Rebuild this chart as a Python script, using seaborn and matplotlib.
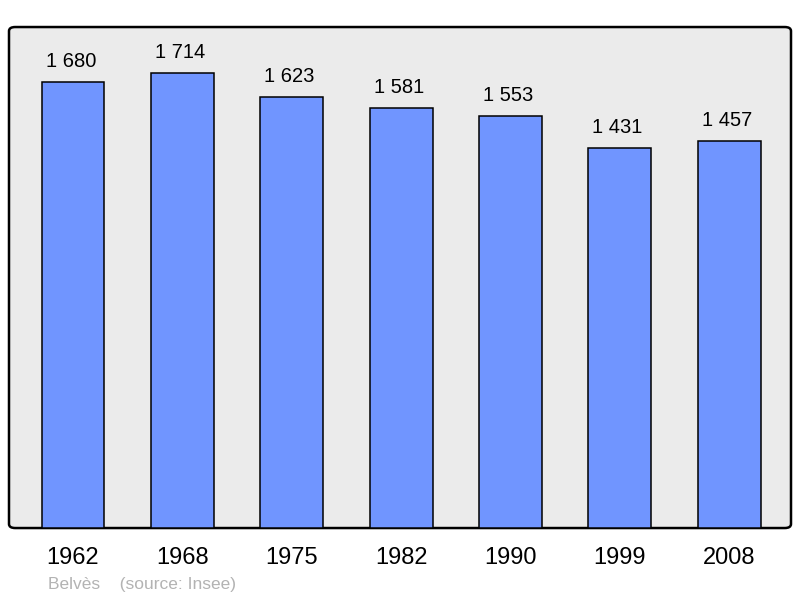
import seaborn as sns
import matplotlib.pyplot as plt
import pandas as pd
from matplotlib.patches import FancyBboxPatch

years = ['1962', '1968', '1975', '1982', '1990', '1999', '2008']
population = [1680, 1714, 1623, 1581, 1553, 1431, 1457]
labels = ['1 680', '1 714', '1 623', '1 581', '1 553', '1 431', '1 457']

df = pd.DataFrame({'year': years, 'pop': population})

sns.set_style('white')
plt.rcParams['font.family'] = ['Liberation Sans', 'DejaVu Sans']

fig = plt.figure(figsize=(8, 5.98), dpi=100)
ax = fig.add_axes([0.01125, 0.117, 0.9775, 0.8378])
ax.set_facecolor('none')

# rounded grey frame
frame = FancyBboxPatch((0, 0), 1, 1, boxstyle='round,pad=0,rounding_size=0.008',
                       transform=ax.transAxes, facecolor='#ebebeb',
                       edgecolor='black', linewidth=1.8, zorder=0, clip_on=False)
ax.add_patch(frame)

sns.barplot(data=df, x='year', y='pop', order=years, color='#7095ff',
            saturation=1, width=0.575, edgecolor='black', linewidth=1.1, ax=ax, zorder=2)

for i, (v, t) in enumerate(zip(population, labels)):
    ax.text(i - 0.02, v + 42, t, ha='center', va='bottom', fontsize=14.5, color='black')

ax.set_xlim(-0.585, 6.565)
ax.set_ylim(0, 1888)
for s in ax.spines.values():
    s.set_visible(False)
ax.set_yticks([])
ax.set_xlabel('')
ax.set_ylabel('')
ax.tick_params(axis='x', length=0, labelsize=17, pad=14, labelcolor='black')

fig.text(0.06, 0.015, 'Belvès    (source: Insee)', color='#b3b3b3', fontsize=12.5)

fig.savefig('out.png', dpi=100)
